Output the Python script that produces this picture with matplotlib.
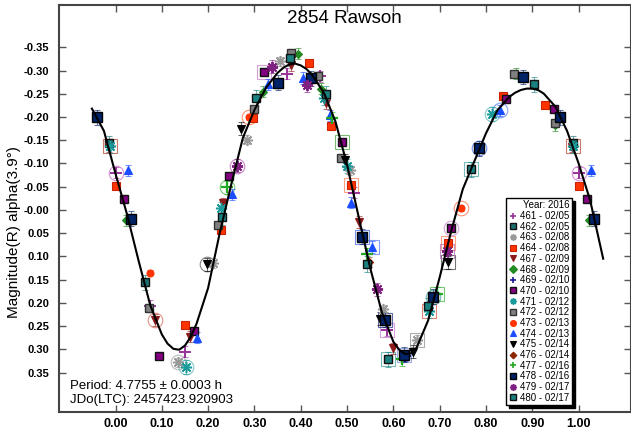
import matplotlib
matplotlib.use("Agg")
import matplotlib.pyplot as plt
from matplotlib.lines import Line2D
import numpy as np

plt.rcParams['font.family'] = ['Liberation Sans', 'DejaVu Sans']

# Fourier fit of the lightcurve (phase, reduced magnitude)
fit_phase = [-0.051, -0.025, 0.000, 0.025, 0.050, 0.075, 0.100, 0.1125, 0.125, 0.1375,
             0.150, 0.1625, 0.175, 0.200, 0.225, 0.250, 0.275, 0.300, 0.325, 0.350,
             0.3625, 0.375, 0.3875, 0.400, 0.4125, 0.425, 0.450, 0.475, 0.500, 0.525,
             0.550, 0.575, 0.600, 0.6125, 0.625, 0.6375, 0.650, 0.675, 0.700, 0.725,
             0.750, 0.775, 0.800, 0.825, 0.850, 0.8625, 0.875, 0.8875, 0.900, 0.9125,
             0.925, 0.950, 0.975, 1.000, 1.025, 1.053]
fit_mag = [-0.218, -0.170, -0.078, 0.010, 0.110, 0.205, 0.268, 0.288, 0.299, 0.301,
           0.292, 0.273, 0.245, 0.168, 0.050, -0.055, -0.155, -0.215, -0.263, -0.295,
           -0.306, -0.313, -0.315, -0.311, -0.303, -0.290, -0.252, -0.190, -0.097, 0.015,
           0.125, 0.220, 0.284, 0.301, 0.310, 0.309, 0.297, 0.238, 0.145, 0.045,
           -0.045, -0.105, -0.165, -0.215, -0.243, -0.252, -0.258, -0.261, -0.261, -0.258,
           -0.250, -0.222, -0.170, -0.100, -0.020, 0.105]

# Observations per session: phase in [0, 1) and magnitude
ph_461 = [0.001, 0.074, 0.149, 0.371, 0.442, 0.515, 0.587]
mag_461 = [-0.080, 0.207, 0.305, -0.293, -0.288, -0.037, 0.259]
ph_462 = [0.987, 0.063]
mag_462 = [-0.144, 0.156]
ph_463 = [0.135, 0.211, 0.284, 0.356, 0.507, 0.577, 0.651]
mag_463 = [0.328, 0.114, -0.151, -0.320, -0.085, 0.214, 0.280]
ph_464 = [0.001, 0.149, 0.227, 0.297, 0.418, 0.465, 0.509, 0.719, 0.836, 0.928]
mag_464 = [-0.052, 0.248, 0.044, -0.197, -0.317, -0.181, -0.053, 0.071, -0.245, -0.225]
ph_467 = [0.986, 0.086, 0.160, 0.232, 0.378, 0.454, 0.526, 0.600]
mag_467 = [-0.136, 0.237, 0.273, -0.014, -0.311, -0.230, 0.026, 0.298]
ph_468 = [0.0225, 0.319, 0.394, 0.443, 0.865, 0.948]
mag_468 = [0.022, -0.254, -0.336, -0.261, -0.293, -0.182]
ph_469 = [0.626]
mag_469 = [0.314]
ph_470 = [0.019, 0.093, 0.170, 0.245, 0.320, 0.488, 0.724, 0.843, 0.947]
mag_470 = [-0.023, 0.314, 0.261, -0.072, -0.297, -0.146, 0.038, -0.238, -0.217]
ph_471 = [0.153, 0.227, 0.450, 0.499, 0.676, 0.813, 0.988]
mag_471 = [0.338, -0.003, -0.240, -0.094, 0.217, -0.206, -0.137]
ph_472 = [0.073, 0.222, 0.300, 0.378, 0.437, 0.486, 0.860, 0.948]
mag_472 = [0.211, 0.033, -0.218, -0.338, -0.288, -0.112, -0.292, -0.188]
ph_473 = [0.074, 0.288, 0.745]
mag_473 = [0.135, -0.199, -0.003]
ph_474 = [0.027, 0.175, 0.252, 0.329, 0.405, 0.463, 0.509, 0.553, 0.831]
mag_474 = [-0.085, 0.275, -0.034, -0.270, -0.284, -0.204, -0.015, 0.080, -0.214]
ph_475 = [0.198, 0.272, 0.495, 0.571, 0.642, 0.717]
mag_475 = [0.117, -0.175, -0.107, 0.234, 0.305, 0.113]
ph_476 = [0.548]
mag_476 = [0.112]
ph_477 = [0.241, 0.467, 0.544, 0.618, 0.694]
mag_477 = [-0.049, -0.197, 0.095, 0.321, 0.180]
ph_478 = [0.960, 0.033, 0.351, 0.423, 0.533, 0.582, 0.623, 0.685, 0.784, 0.880]
mag_478 = [-0.199, 0.019, -0.274, -0.283, 0.058, 0.236, 0.312, 0.187, -0.133, -0.286]
ph_479 = [0.263, 0.337, 0.413, 0.564, 0.716]
mag_479 = [-0.095, -0.308, -0.268, 0.171, 0.089]
ph_480 = [0.229, 0.304, 0.377, 0.454, 0.543, 0.589, 0.674, 0.768, 0.903]
mag_480 = [0.015, -0.241, -0.326, -0.250, 0.117, 0.322, 0.207, -0.087, -0.270]

session_labels = ["461 - 02/05", "462 - 02/05", "463 - 02/08", "464 - 02/08",
                  "467 - 02/09", "468 - 02/09", "469 - 02/10", "470 - 02/10",
                  "471 - 02/12", "472 - 02/12", "473 - 02/13", "474 - 02/13",
                  "475 - 02/14", "476 - 02/14", "477 - 02/16", "478 - 02/16",
                  "479 - 02/17", "480 - 02/17"]

# session: (phases, mags, marker, face, edge, size, edge width, error)
sessions = [
    (ph_461, mag_461, '+', '#993399', '#993399', 8, 1.4, 0.012),
    (ph_462, mag_462, 's', '#1a6f6f', '#111111', 6, 1.0, 0.016),
    (ph_463, mag_463, (8, 2, 0), '#999999', '#999999', 8, 1.1, 0.010),
    (ph_464, mag_464, 's', '#ff3300', '#cc2200', 6, 0.8, 0.006),
    (ph_467, mag_467, 'v', '#8b1a1a', '#8b1a1a', 6, 0.8, 0.012),
    (ph_468, mag_468, 'D', '#228b22', '#228b22', 4.5, 0.8, 0.012),
    (ph_469, mag_469, '+', '#1a1a99', '#1a1a99', 8, 1.6, 0.012),
    (ph_470, mag_470, 's', '#800080', '#111111', 6, 1.0, 0.006),
    (ph_471, mag_471, (8, 2, 0), '#1a9a9a', '#1a9a9a', 8, 1.1, 0.015),
    (ph_472, mag_472, 's', '#808080', '#333333', 6, 1.0, 0.008),
    (ph_473, mag_473, 'o', '#ff3300', '#ff3300', 5, 0.8, 0.006),
    (ph_474, mag_474, '^', '#1a4dff', '#1a4dff', 6, 0.8, 0.012),
    (ph_475, mag_475, 'v', '#000000', '#000000', 6, 0.8, 0.014),
    (ph_476, mag_476, 'D', '#8b2500', '#8b2500', 4, 0.8, 0.010),
    (ph_477, mag_477, '+', '#22aa22', '#22aa22', 8, 1.6, 0.014),
    (ph_478, mag_478, 's', '#002266', '#000000', 6.5, 1.0, 0.016),
    (ph_479, mag_479, (8, 2, 0), '#802080', '#802080', 8, 1.4, 0.014),
    (ph_480, mag_480, 's', '#1a8080', '#111111', 6, 1.0, 0.017),
]

# hollow rings drawn behind selected points: (session index, point index, marker, colour)
rings = [
    (0, 0, 'o', '#cc77cc'), (0, 6, 's', '#cc88dd'),
    (2, 0, 'o', '#aaaaaa'), (2, 6, 's', '#999999'),
    (3, 6, 's', '#ff8866'), (3, 7, 's', '#ff8866'),
    (4, 1, 'o', '#dd7766'),
    (7, 4, 's', '#cc88cc'), (7, 5, 's', '#55aa55'), (7, 6, 'o', '#cc88cc'),
    (8, 0, 'o', '#66bbbb'), (8, 4, 's', '#dd6655'), (8, 5, 'o', '#66bbbb'), (8, 6, 's', '#bb5544'),
    (10, 1, 'o', '#ff7755'), (10, 2, 'o', '#ff7755'),
    (11, 7, 's', '#6688ff'), (11, 8, 'o', '#6688ff'),
    (12, 0, 'o', '#666666'), (12, 5, 's', '#555555'),
    (14, 0, 'o', '#55bb55'), (14, 4, 's', '#55bb55'),
    (15, 4, 's', '#5577ee'), (15, 5, 's', '#334488'), (15, 6, 's', '#8899dd'),
    (15, 7, 'o', '#55aaaa'), (15, 8, 'o', '#5577ee'),
    (16, 0, 'o', '#bb66bb'), (16, 4, 's', '#bb77bb'),
    (17, 5, 's', '#55aaaa'), (17, 7, 's', '#55aaaa'),
]


def wrapped(ph, mg):
    """Repeat points near the phase edges one cycle over."""
    ph = np.asarray(ph, float)
    mg = np.asarray(mg, float)
    lo = ph > 0.955
    hi = ph < 0.04
    return (np.concatenate([ph, ph[lo] - 1, ph[hi] + 1]),
            np.concatenate([mg, mg[lo], mg[hi]]))


fig = plt.figure(figsize=(6.31, 4.29), dpi=100)
ax = fig.add_axes([59 / 631, 17 / 429, 571.5 / 631, 407 / 429])

for si, pi, mk, col in rings:
    ph, mg = sessions[si][0], sessions[si][1]
    xs, ys = wrapped([ph[pi]], [mg[pi]])
    ax.plot(xs, ys, linestyle='none', marker=mk, markersize=10.5,
            markerfacecolor='none', markeredgecolor=col, markeredgewidth=0.8,
            alpha=0.8, zorder=2)

for ph, mg, mk, face, edge, ms, mew, err in sessions:
    xs, ys = wrapped(ph, mg)
    ax.errorbar(xs, ys, yerr=err, fmt='none', ecolor=edge if face == edge else face,
                elinewidth=0.8, capsize=2.5, capthick=0.8, alpha=0.6, zorder=3)
    ax.plot(xs, ys, linestyle='none', marker=mk, markersize=ms,
            markerfacecolor=face, markeredgecolor=edge, markeredgewidth=mew, zorder=4)

ax.plot(fit_phase, fit_mag, color='black', linewidth=1.5, zorder=5,
        solid_joinstyle='round')

ax.set_xlim(-0.122, 1.112)
ax.set_ylim(0.435, -0.441)
ax.set_xticks(np.round(np.arange(0, 1.001, 0.1), 2))
ax.set_yticks(np.round(np.arange(-0.35, 0.351, 0.05), 2))
ax.xaxis.set_major_formatter(matplotlib.ticker.FormatStrFormatter('%.2f'))
ax.yaxis.set_major_formatter(matplotlib.ticker.FormatStrFormatter('%.2f'))
ax.tick_params(direction='in', top=True, right=True, length=5, width=1,
               color='#555555')
ax.tick_params(axis='x', pad=4, labelsize=9)
ax.tick_params(axis='y', pad=7, labelsize=8)
for lab in ax.get_xticklabels() + ax.get_yticklabels():
    lab.set_fontweight('bold')
for sp in ax.spines.values():
    sp.set_linewidth(1.5)
    sp.set_color('#444444')

ax.text(0.5, 0.968, '2854 Rawson', transform=ax.transAxes, ha='center',
        va='center', fontsize=13.5)
fig.text(14 / 631, 1 - 232 / 429, 'Magnitude(R) alpha(3.9°)', rotation=90,
         ha='center', va='center', fontsize=11)
fig.text(70 / 631, 1 - 386 / 429, 'Period: 4.7755 ± 0.0003 h', ha='left',
         va='center', fontsize=9.5)
fig.text(70 / 631, 1 - 400 / 429, 'JDo(LTC): 2457423.920903', ha='left',
         va='center', fontsize=9.5)

handles = []
for (ph, mg, mk, face, edge, ms, mew, err), lab in zip(sessions, session_labels):
    handles.append(Line2D([], [], linestyle='none', marker=mk,
                          markersize=min(ms, 5.5) * 0.85, markerfacecolor=face,
                          markeredgecolor=edge, markeredgewidth=min(mew, 1.2),
                          label=lab))
leg = ax.legend(handles=handles, title='Year: 2016', loc='upper left',
                bbox_to_anchor=((506 - 59) / 571.5, (412 - 198) / 407),
                fontsize=7, title_fontsize=7, alignment='right',
                handlelength=0.9, handletextpad=0.3, labelspacing=0.07,
                borderpad=0.25, borderaxespad=0, fancybox=False,
                edgecolor='black', framealpha=1,
                shadow={'color': 'black', 'alpha': 1})
leg.get_frame().set_linewidth(1.0)
leg.set_zorder(10)

fig.savefig('out.png', dpi=100)
